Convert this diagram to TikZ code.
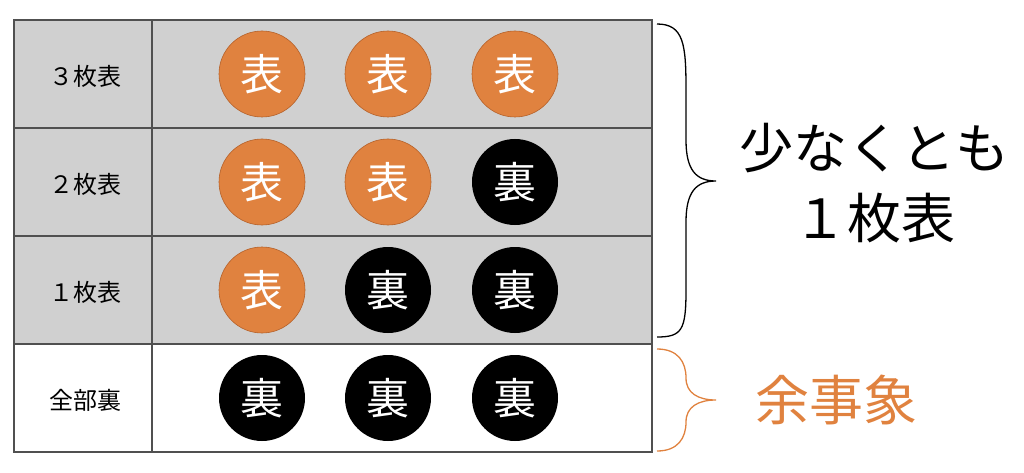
\documentclass[tikz,border=0pt]{standalone}
\usepackage{fontspec}
\usepackage{tikz}
\usetikzlibrary{positioning}
\newfontfamily\jpfont{Noto Sans CJK JP}
\definecolor{coin}{HTML}{E0823F}
\definecolor{coinedge}{HTML}{B5612A}
\definecolor{cellgray}{HTML}{D0D0D0}
\definecolor{gridline}{HTML}{505050}

\begin{document}
\begin{tikzpicture}[x=1pt, y=1pt, yscale=-1,
  every node/.style={font=\jpfont},
  omote/.style={circle, fill=coin, draw=coinedge, line width=0.6pt, minimum size=86pt, inner sep=0pt, text=white, font=\jpfont\fontsize{43}{43}\selectfont},
  ura/.style={circle, fill=black, minimum size=86pt, inner sep=0pt, text=white, font=\jpfont\fontsize{43}{43}\selectfont},
  rowlabel/.style={font=\jpfont\fontsize{24}{24}\selectfont},
  bigtext/.style={font=\jpfont\fontsize{54}{70}\selectfont, align=center}]
\useasboundingbox (0,0) rectangle (1024,473);
% table
\fill[cellgray] (14,20) rectangle (652,344);
\draw[gridline, line width=1.2pt] (14,20) rectangle (652,452);
\draw[gridline, line width=1.2pt] (14,128) -- (652,128); \draw[gridline, line width=1.2pt] (14,236) -- (652,236);
\draw[gridline, line width=1.2pt] (14,344) -- (652,344); \draw[gridline, line width=1.2pt] (152,20) -- (152,452);
% row labels
\node[rowlabel] (lab3) at (85,76) {３枚表};
\node[rowlabel] (lab2) at (85,184) {２枚表};
\node[rowlabel] (lab1) at (85,292) {１枚表};
\node[rowlabel] (lab0) at (85,400) {全部裏};
% coins
\node[omote] (c31) at (262,74) {表}; \node[omote] (c32) at (388,74) {表}; \node[omote] (c33) at (515,74) {表};
\node[omote] (c21) at (262,182) {表}; \node[omote] (c22) at (388,182) {表}; \node[ura] (c23) at (515,182) {裏};
\node[omote] (c11) at (262,290) {表}; \node[ura] (c12) at (388,290) {裏}; \node[ura] (c13) at (515,290) {裏};
\node[ura] (c01) at (262,398) {裏}; \node[ura] (c02) at (388,398) {裏}; \node[ura] (c03) at (515,398) {裏};
% braces
\draw[line width=1.3pt] (657,24) .. controls (684,24) and (686,45) .. (686,90) -- (686,140)
  .. controls (686,170) and (696,181) .. (716,181)
  .. controls (696,181) and (686,192) .. (686,222) -- (686,290)
  .. controls (686,330) and (682,337) .. (657,337);
\draw[coin, line width=1.3pt] (657,349) .. controls (678,349) and (686,362) .. (686,378)
  .. controls (686,393) and (698,400) .. (716,400)
  .. controls (698,400) and (686,407) .. (686,422)
  .. controls (686,438) and (678,451) .. (657,451);
\node[bigtext] (atleast) at (874,183) {少なくとも\\１枚表};
\node[bigtext, text=coin] (yoji) at (836,400) {余事象};
\end{tikzpicture}
\end{document}
